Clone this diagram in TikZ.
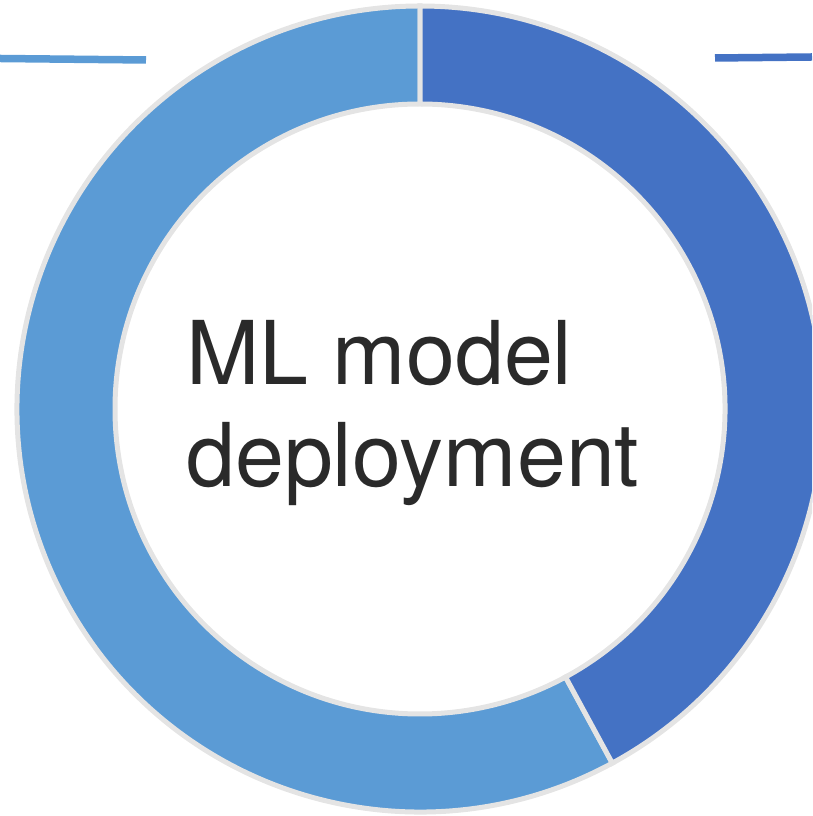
\documentclass[tikz,border=0pt]{standalone}
\usepackage{fontspec}
\setmainfont{TeX Gyre Heros}
\definecolor{ltblue}{HTML}{5B9BD5}
\definecolor{dkblue}{HTML}{4472C4}
\definecolor{sepgray}{HTML}{E4E4E4}
\definecolor{txtgray}{HTML}{2A2A2A}
\begin{document}
\begin{tikzpicture}[x=1pt,y=1pt,
  seg/.style={draw=sepgray, line width=5pt, line join=miter},
  leader/.style={line width=7.5pt},
  label/.style={anchor=base west, inner sep=0pt, text=txtgray, font=\fontsize{88}{104}\selectfont}]
\useasboundingbox (0,0) rectangle (812,816);
\clip (0,0) rectangle (812,816);
\coordinate (c) at (420,407);
\begin{scope}[shift={(c)}]
  \filldraw[seg, fill=ltblue] (-61.5:403pt) arc[start angle=-61.5, end angle=-270, radius=403pt]
     -- (90:305pt) arc[start angle=-270, end angle=-61.5, radius=305pt] -- cycle;
  \filldraw[seg, fill=dkblue] (90:403pt) arc[start angle=90, end angle=-61.5, radius=403pt]
     -- (-61.5:305pt) arc[start angle=-61.5, end angle=90, radius=305pt] -- cycle;
\end{scope}
\coordinate (l1) at (0,757.5);
\coordinate (l2) at (146,756);
\coordinate (r1) at (715,758);
\coordinate (r2) at (812,759);
\draw[leader, ltblue] (l1) -- (l2);
\draw[leader, dkblue] (r1) -- (r2);
\node[label] (t1) at (186,431) {ML model};
\node[label] (t2) at (186,329) {deployment};
\end{tikzpicture}
\end{document}
